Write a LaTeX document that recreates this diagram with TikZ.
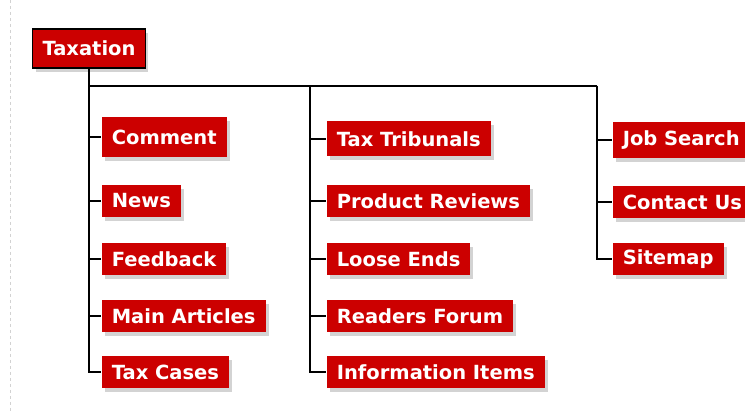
\documentclass[tikz,border=0pt]{standalone}
\usepackage{fontspec}
\setsansfont{DejaVu Sans}
\usetikzlibrary{shadows}
\definecolor{navred}{RGB}{204,0,0}
\tikzset{menu/.style={fill=navred, text=white, anchor=west, inner xsep=10pt, minimum height=32pt,
  font=\sffamily\bfseries\fontsize{19.5}{22}\selectfont,
  drop shadow={shadow xshift=3pt, shadow yshift=-4pt, opacity=0.35}}}
\tikzset{rootbox/.style={menu, anchor=center, draw=black, line width=1.5pt, minimum height=39pt}}

\begin{document}
\begin{tikzpicture}[x=1pt, y=-1pt, line width=1.6pt]
\useasboundingbox (0,0) rectangle (745,411);
\draw[gray!35, dashed, line width=1pt] (10,0) -- (10,411);
\node[rootbox] (tax) at (89,48.5) {Taxation};
% first column
\node[menu, minimum height=40pt] (comment) at (101,137) {Comment};
\node[menu] (news) at (101,201) {News};
\node[menu] (feedback) at (101,259) {Feedback};
\node[menu] (articles) at (101,316) {Main Articles};
\node[menu] (cases) at (101,372) {Tax Cases};
% second column
\node[menu, minimum height=35pt] (tribunals) at (326,139) {Tax Tribunals};
\node[menu] (reviews) at (326,201) {Product Reviews};
\node[menu] (ends) at (326,259) {Loose Ends};
\node[menu] (forum) at (326,316) {Readers Forum};
\node[menu] (items) at (326,372) {Information Items};
% third column
\node[menu, minimum height=36pt] (jobs) at (612,140) {Job Search};
\node[menu] (contact) at (612,202) {Contact Us};
\node[menu] (sitemap) at (612,259) {Sitemap};
\coordinate (hub) at (89,86);
\coordinate (col2) at (310,86);
\coordinate (col3) at (597,86);
\draw (hub) -- (col3);
\foreach \n in {comment,news,feedback,articles,cases} \draw (tax) |- (\n);
\foreach \n in {tribunals,reviews,ends,forum,items} \draw (col2) |- (\n);
\foreach \n in {jobs,contact,sitemap} \draw (col3) |- (\n);
\end{tikzpicture}
\end{document}
